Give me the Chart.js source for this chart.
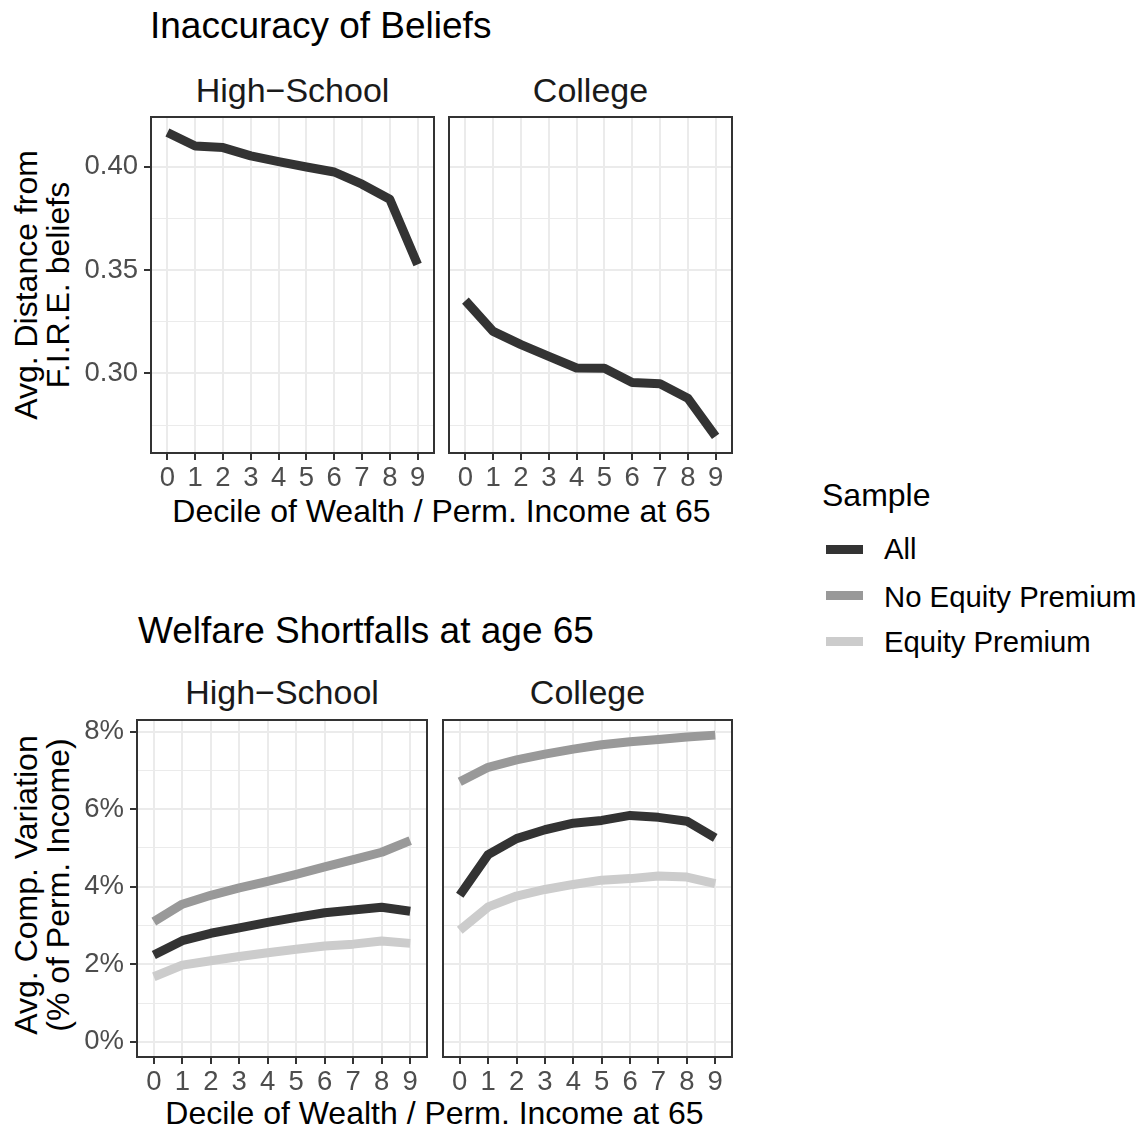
<!DOCTYPE html>
<html>
<head>
<meta charset="utf-8">
<script src="https://cdn.jsdelivr.net/npm/chart.js@4.4.1/dist/chart.umd.min.js"></script>
<style>
  html, body { margin: 0; padding: 0; background: #fff; }
  body { width: 1141px; height: 1131px; position: relative; overflow: hidden;
         font-family: 'Liberation Sans', Arial, Helvetica, sans-serif; }
  canvas { position: absolute; }
  .t { position: absolute; white-space: nowrap; }
  .c { transform: translateX(-50%); text-align: center; }
  .ytitle { position: absolute; white-space: nowrap; text-align: center; color: #000;
            font-size: 32px; line-height: 32px; transform: translate(-50%, -50%) rotate(-90deg); }
  .key { position: absolute; left: 826px; width: 37px; height: 9px; }
</style>
</head>
<body>

<div class="t" style="left:150px; top:7px; font-size:37px; line-height:37px; color:#000;">Inaccuracy of Beliefs</div>
<div class="t c" style="left:292.5px; top:73px; font-size:34px; line-height:34px; color:#1a1a1a;">High−School</div>
<div class="t c" style="left:590.5px; top:73px; font-size:34px; line-height:34px; color:#1a1a1a;">College</div>
<div class="t c" style="left:441.5px; top:495px; font-size:32px; line-height:32px; color:#000;">Decile of Wealth / Perm. Income at 65</div>
<div class="ytitle" style="left:42px; top:285px;">Avg. Distance from<br>F.I.R.E. beliefs</div>

<div class="t" style="left:138px; top:612px; font-size:37px; line-height:37px; color:#000;">Welfare Shortfalls at age 65</div>
<div class="t c" style="left:282px; top:675px; font-size:34px; line-height:34px; color:#1a1a1a;">High−School</div>
<div class="t c" style="left:587.5px; top:675px; font-size:34px; line-height:34px; color:#1a1a1a;">College</div>
<div class="t c" style="left:434.5px; top:1097px; font-size:32px; line-height:32px; color:#000;">Decile of Wealth / Perm. Income at 65</div>
<div class="ytitle" style="left:42px; top:885px;">Avg. Comp. Variation<br>(% of Perm. Income)</div>

<!-- legend -->
<div class="t" style="left:822px; top:479px; font-size:32px; line-height:32px; color:#000;">Sample</div>
<div class="key" style="top:545px; background:#333333;"></div>
<div class="key" style="top:591px; background:#999999;"></div>
<div class="key" style="top:637px; background:#cccccc;"></div>
<div class="t" style="left:884px; top:534px; font-size:29.3px; line-height:29px; color:#000;">All</div>
<div class="t" style="left:884px; top:582px; font-size:29.3px; line-height:29px; color:#000;">No Equity Premium</div>
<div class="t" style="left:884px; top:627px; font-size:29.3px; line-height:29px; color:#000;">Equity Premium</div>

<canvas id="belief-hs"  width="357" height="388" style="left:81px;  top:113px;"></canvas>
<canvas id="belief-col" width="291" height="388" style="left:445px; top:113px;"></canvas>
<canvas id="welfare-hs"  width="364" height="389" style="left:67px;  top:716px;"></canvas>
<canvas id="welfare-col" width="297" height="389" style="left:439px; top:716px;"></canvas>

<script>
(function () {
    'use strict';

    /* --- data --- */
    var deciles = [0, 1, 2, 3, 4, 5, 6, 7, 8, 9];

    // avg. distance from F.I.R.E. beliefs
    var beliefHS  = [0.4165, 0.4100, 0.4092, 0.4052, 0.4024, 0.3998, 0.3974, 0.3915, 0.3842, 0.3527];
    var beliefCol = [0.3352, 0.3203, 0.3139, 0.3082, 0.3026, 0.3025, 0.2956, 0.2950, 0.2880, 0.2695];

    // welfare shortfall, % of permanent income
    var hsAll   = [2.24, 2.61, 2.80, 2.94, 3.08, 3.21, 3.33, 3.40, 3.47, 3.37];
    var hsNoEP  = [3.10, 3.55, 3.78, 3.97, 4.14, 4.32, 4.51, 4.70, 4.89, 5.19];
    var hsEP    = [1.68, 1.98, 2.09, 2.20, 2.30, 2.39, 2.47, 2.52, 2.60, 2.54];
    var colAll  = [3.78, 4.83, 5.24, 5.47, 5.64, 5.71, 5.84, 5.79, 5.69, 5.26];
    var colNoEP = [6.71, 7.08, 7.27, 7.42, 7.55, 7.66, 7.74, 7.80, 7.86, 7.91];
    var colEP   = [2.88, 3.48, 3.76, 3.93, 4.06, 4.17, 4.21, 4.28, 4.25, 4.08];

    var sampleLabels = ['All', 'No Equity Premium', 'Equity Premium'];

    // axis limits and breaks
    var xRange        = [-0.59, 9.59];
    var beliefRange   = [0.2615, 0.4240];
    var beliefMajor   = [0.30, 0.35, 0.40];
    var beliefMinor   = [0.275, 0.325, 0.375];
    var welfareRange  = [-0.39, 8.30];
    var welfareMajor  = [0, 2, 4, 6, 8];
    var welfareMinor  = [1, 3, 5, 7];

    var dark = '#333333', mid = '#999999', light = '#cccccc';
    var PAD = 4;

    Chart.defaults.font.family = "'Liberation Sans', Arial, Helvetica, sans-serif";

    /* --- full panel frame drawn over everything --- */
    var panelBorder = {
        id: 'panelBorder',
        afterDraw: function (chart) {
            var a = chart.chartArea, c = chart.ctx;
            c.save();
            c.strokeStyle = '#333333';
            c.lineWidth = 2;
            c.strokeRect(a.left, a.top, a.right - a.left, a.bottom - a.top);
            c.restore();
        }
    };

    function noPadding(axis) {
        axis.paddingTop = 0;
        axis.paddingBottom = 0;
        axis.paddingLeft = 0;
        axis.paddingRight = 0;
    }

    function panel(id, series, yRange, major, minor, fmt, showY) {
        var allTicks = major.concat(minor).sort(function (a, b) { return a - b; });
        var isMajor = function (v) { return major.indexOf(v) >= 0; };

        new Chart(document.getElementById(id), {
            type: 'line',
            data: {
                datasets: series.map(function (s) {
                    return {
                        label: s.label,
                        data: deciles.map(function (d, i) { return { x: d, y: s.values[i] }; }),
                        borderColor: s.color,
                        borderWidth: 9,
                        borderCapStyle: 'butt',
                        borderJoinStyle: 'round',
                        pointRadius: 0,
                        tension: 0,
                        fill: false
                    };
                })
            },
            options: {
                responsive: false,
                animation: false,
                events: [],
                layout: { padding: { top: PAD, right: PAD, left: showY ? 0 : PAD, bottom: 0 } },
                plugins: { legend: { display: false }, tooltip: { enabled: false } },
                scales: {
                    x: {
                        type: 'linear',
                        min: xRange[0],
                        max: xRange[1],
                        afterBuildTicks: function (a) {
                            a.ticks = deciles.map(function (v) { return { value: v }; });
                        },
                        afterFit: function (a) { a.height = 48; noPadding(a); },
                        border: { display: false },
                        grid: { color: '#ebebeb', lineWidth: 2, tickLength: 7, tickColor: '#333333', tickWidth: 2 },
                        ticks: {
                            color: '#4d4d4d',
                            font: { size: 27.5 },
                            padding: 2,
                            maxRotation: 0,
                            autoSkip: false,
                            callback: function (v) { return String(v); }
                        }
                    },
                    y: {
                        type: 'linear',
                        min: yRange[0],
                        max: yRange[1],
                        afterBuildTicks: function (a) {
                            a.ticks = allTicks.map(function (v) { return { value: v }; });
                        },
                        afterFit: function (a) { a.width = showY ? 70 : 0; noPadding(a); },
                        border: { display: false },
                        grid: {
                            color: '#ebebeb',
                            lineWidth: function (ctx) { return ctx.tick && isMajor(ctx.tick.value) ? 2 : 1; },
                            drawTicks: showY,
                            tickLength: showY ? 7 : 0,
                            tickWidth: 2,
                            tickColor: function (ctx) {
                                return ctx.tick && isMajor(ctx.tick.value) ? '#333333' : 'rgba(0,0,0,0)';
                            }
                        },
                        ticks: {
                            display: showY,
                            color: '#4d4d4d',
                            font: { size: 27.5 },
                            padding: 6,
                            autoSkip: false,
                            callback: function (v) { return isMajor(v) ? fmt(v) : ''; }
                        }
                    }
                }
            },
            plugins: [panelBorder]
        });
    }

    var fmtBelief = function (v) { return v.toFixed(2); };
    var fmtPct = function (v) { return v + '%'; };

    /* 1. Inaccuracy of beliefs */
    panel('belief-hs',  [{ label: sampleLabels[0], values: beliefHS,  color: dark }],
          beliefRange, beliefMajor, beliefMinor, fmtBelief, true);
    panel('belief-col', [{ label: sampleLabels[0], values: beliefCol, color: dark }],
          beliefRange, beliefMajor, beliefMinor, fmtBelief, false);

    /* 2. Welfare shortfalls at 65 */
    panel('welfare-hs', [
        { label: sampleLabels[0], values: hsAll,  color: dark },
        { label: sampleLabels[1], values: hsNoEP, color: mid },
        { label: sampleLabels[2], values: hsEP,   color: light }
    ], welfareRange, welfareMajor, welfareMinor, fmtPct, true);
    panel('welfare-col', [
        { label: sampleLabels[0], values: colAll,  color: dark },
        { label: sampleLabels[1], values: colNoEP, color: mid },
        { label: sampleLabels[2], values: colEP,   color: light }
    ], welfareRange, welfareMajor, welfareMinor, fmtPct, false);
})();
</script>
</body>
</html>
